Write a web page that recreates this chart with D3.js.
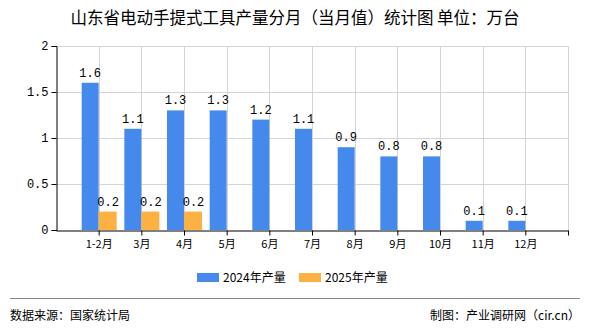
<!DOCTYPE html>
<html><head><meta charset="utf-8">
<script src="https://cdn.jsdelivr.net/npm/d3@7"></script>
<style>body{margin:0;background:#fff}svg{display:block}</style>
</head><body>
<svg id="c" width="590" height="330"></svg>
<script>
const categories = ["1-2月","3月","4月","5月","6月","7月","8月","9月","10月","11月","12月"];
const series2024 = [1.6,1.1,1.3,1.3,1.2,1.1,0.9,0.8,0.8,0.1,0.1];
const series2025 = [0.2,0.2,0.2,null,null,null,null,null,null,null,null];
const yTicks = [0,0.5,1,1.5,2];
const seriesNames = ["2024年产量","2025年产量"];
const colors = ["#4589EC","#FCB142"];

const svg = d3.select("#c");
const L=56, R=568, T=46, B=230;
const slots = d3.range(categories.length+2);
const xs = d3.scalePoint().domain(slots).range([L,R]);
const x = i => xs(i+1);
const y = d3.scaleLinear().domain([0,2]).range([B,T]);
const bw = 17;
const font = "'SimSun','Noto Sans CJK SC',sans-serif";
const mono = "'Liberation Mono','DejaVu Sans Mono',monospace";

// grid
svg.append("g").selectAll("line").data(yTicks.filter(d=>d>0)).join("line")
  .attr("x1",L).attr("x2",R).attr("y1",d=>Math.round(y(d))+0.5).attr("y2",d=>Math.round(y(d))+0.5)
  .attr("stroke","#d4d4d4");
svg.append("g").selectAll("line").data(slots.slice(1)).join("line")
  .attr("x1",d=>Math.round(xs(d))+0.5).attr("x2",d=>Math.round(xs(d))+0.5).attr("y1",T).attr("y2",B)
  .attr("stroke","#d4d4d4");

// bars
categories.forEach((c,i)=>{
  if(series2024[i]!=null){
    svg.append("rect").attr("x",x(i)-bw).attr("width",bw)
      .attr("y",y(series2024[i])).attr("height",B-y(series2024[i])).attr("fill",colors[0]);
    svg.append("text").attr("x",x(i)-bw/2).attr("y",y(series2024[i])-6)
      .attr("text-anchor","middle").attr("font-family",mono).attr("font-size",12).text(series2024[i]);
  }
  if(series2025[i]!=null){
    svg.append("rect").attr("x",x(i)).attr("width",bw+1)
      .attr("y",y(series2025[i])).attr("height",B-y(series2025[i])).attr("fill",colors[1]);
    svg.append("text").attr("x",x(i)+bw/2+1).attr("y",y(series2025[i])-6)
      .attr("text-anchor","middle").attr("font-family",mono).attr("font-size",12).text(series2025[i]);
  }
});

// axes
const ya = svg.append("g").attr("transform",`translate(${L+0.5},0)`)
  .call(d3.axisLeft(y).tickValues(yTicks).tickSize(5).tickFormat(d=>d));
ya.select(".domain").attr("stroke","#000");
ya.selectAll("text").attr("font-family",mono).attr("font-size",12).attr("fill","#000");
const xa = svg.append("g").attr("transform",`translate(0,${B+0.5})`)
  .call(d3.axisBottom(xs).tickValues(slots.slice(1)).tickSize(5).tickFormat(d=>categories[d-1]||"").tickSizeOuter(0));
xa.select(".domain").attr("stroke","#000");
xa.selectAll("text").attr("font-family",font).attr("font-size",11).attr("fill","#000").attr("dy","0.9em");

// title
svg.append("text").attr("x",295).attr("y",24).attr("text-anchor","middle")
  .attr("font-family",font).attr("font-size",16.5).attr("fill","#000")
  .text("山东省电动手提式工具产量分月（当月值）统计图 单位：万台");

// legend
const lg = [[197,seriesNames[0],colors[0]],[299,seriesNames[1],colors[1]]];
lg.forEach(([lx,t,col])=>{
  svg.append("rect").attr("x",lx).attr("y",273).attr("width",22).attr("height",9).attr("fill",col);
  svg.append("text").attr("x",lx+26).attr("y",281.5).attr("font-family",font).attr("font-size",12).text(t);
});

// footer
svg.append("line").attr("x1",10).attr("x2",580).attr("y1",298.5).attr("y2",298.5).attr("stroke","#888");
svg.append("text").attr("x",10).attr("y",320).attr("font-family",font).attr("font-size",12).text("数据来源：国家统计局");
svg.append("text").attr("x",580).attr("y",320).attr("text-anchor","end").attr("font-family",font).attr("font-size",12).text("制图：产业调研网（cir.cn）");
</script>
</body></html>
